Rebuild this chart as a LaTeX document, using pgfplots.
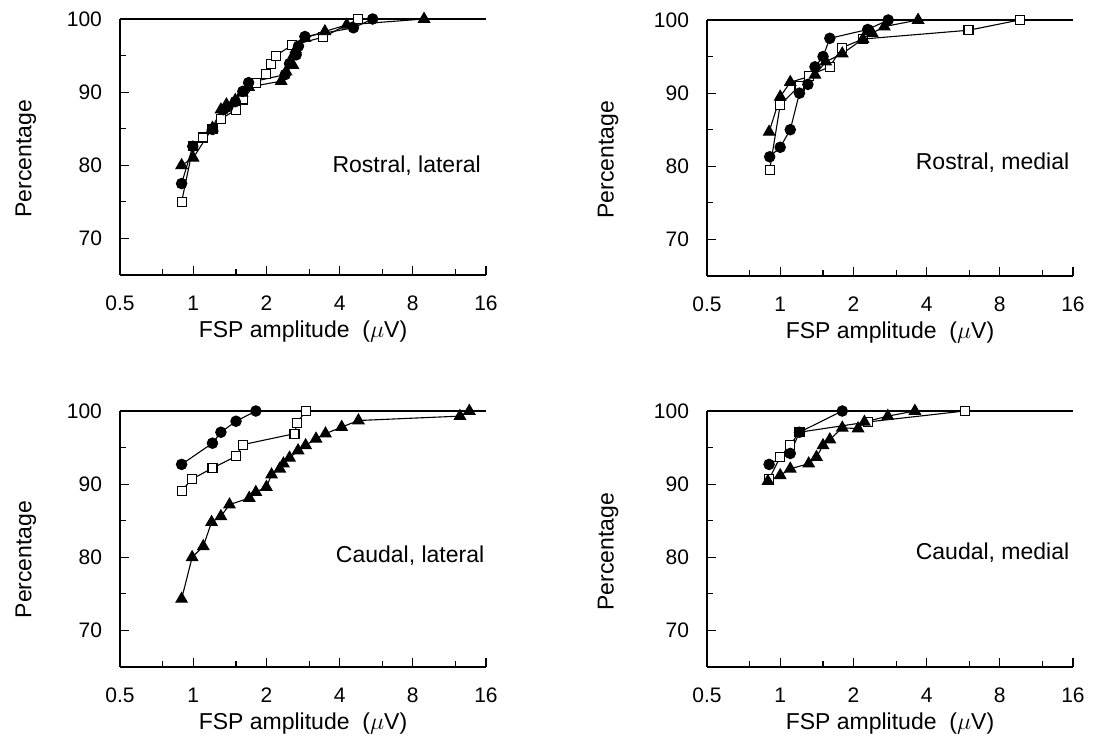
\documentclass[border=0pt]{standalone}
\usepackage{fontspec}
\setmainfont{Liberation Sans}
\usepackage{pgfplots}
\pgfplotsset{compat=1.18}

\pgfplotsset{
  every axis/.append style={
    scale only axis, width=183pt, height=128pt,
    xmin=0.5, xmax=16, ymin=65, ymax=100,
    axis x line*=bottom, axis y line*=left,
    axis line style={line width=0.6pt},
    xtick={0.5,1,2,4,8,16}, xticklabels={0.5,1,2,4,8,16},
    extra x ticks={0.75,1.5,3,6,12}, extra x tick labels={},
    extra x tick style={major tick length=2.8pt},
    ytick={70,80,90,100}, yticklabels={70,80,90,100},
    minor ytick={75,85,95},
    tick align=inside,
    major tick length=4.5pt, minor tick length=2.8pt,
    tick style={black, line width=0.6pt},
    tick label style={font=\fontsize{10.5}{12}\selectfont},
    xticklabel style={yshift=-7pt},
    yticklabel style={xshift=-5.5pt},
    xlabel={FSP amplitude\ \ ($\mu$V)},
    ylabel={Percentage},
    label style={font=\fontsize{11.5}{13}\selectfont},
    xlabel style={at={(axis description cs:0.5,-0.219)}, anchor=center},
    clip=false,
  },
  sq/.style={black, line width=0.55pt, mark=square*, mark options={fill=white, solid}, mark size=2.25pt},
  ci/.style={black, line width=0.55pt, mark=*, mark size=2.6pt},
  tr/.style={black, line width=0.55pt, mark=triangle*, mark size=3.2pt},
}
% top border line and the panel name (right edge at x = #1, centred at y = #2)
\newcommand{\toplineandlabel}[3]{%
  \draw[line width=0.6pt] (rel axis cs:0,1) -- (rel axis cs:1,1);
  \node[anchor=east, inner sep=0pt] at (axis cs:#1,#2) {\fontsize{11.5}{13}\selectfont #3};}

\begin{document}
\begin{tikzpicture}
\path[use as bounding box] (0,0) rectangle (546.5pt,370.5pt);

% Rostral, lateral
\begin{semilogxaxis}[log basis x=2, anchor=south west, at={(60pt,233pt)},
  ylabel style={at={(axis description cs:-0.257,0.455)}, anchor=center}]
\addplot[sq] coordinates {(0.896,75.0) (1.0,82.6) (1.094,83.8) (1.2,85.0) (1.297,86.3) (1.5,87.6) (1.6,89.0) (1.81,91.2) (2.0,92.5) (2.09,93.9) (2.19,95.0) (2.54,96.4) (3.41,97.5) (4.78,100)};
\addplot[ci] coordinates {(0.896,77.5) (0.996,82.6) (1.20,84.9) (1.33,87.6) (1.39,88.0) (1.49,88.7) (1.6,90.1) (1.69,91.3) (2.39,92.4) (2.49,93.9) (2.65,95.1) (2.71,96.3) (2.88,97.6) (4.56,98.8) (5.47,100)};
\addplot[tr] coordinates {(0.896,80.0) (1.0,81.0) (1.2,85.1) (1.3,87.6) (1.37,88.3) (1.49,88.9) (1.59,89.9) (1.69,90.7) (2.30,91.5) (2.41,92.8) (2.57,93.7) (2.59,95.1) (2.64,95.8) (2.88,97.4) (3.48,98.3) (4.28,99.2) (8.9,100)};
\toplineandlabel{15.3}{80.0}{Rostral, lateral}
\end{semilogxaxis}

% Rostral, medial
\begin{semilogxaxis}[log basis x=2, anchor=south west, at={(353.5pt,232.5pt)},
  ylabel style={at={(axis description cs:-0.27,0.455)}, anchor=center}]
\addplot[sq] coordinates {(0.905,79.5) (1.0,88.4) (1.2,91.0) (1.31,92.4) (1.6,93.6) (1.79,96.2) (2.19,97.4) (5.95,98.6) (9.65,100)};
\addplot[ci] coordinates {(0.905,81.3) (1.0,82.6) (1.10,85.0) (1.20,90.0) (1.30,91.2) (1.39,93.6) (1.50,95.0) (1.60,97.5) (2.29,98.7) (2.78,100)};
\addplot[tr] coordinates {(0.90,84.7) (1.0,89.5) (1.10,91.5) (1.39,92.5) (1.54,94.3) (1.80,95.4) (2.19,97.4) (2.39,98.2) (2.68,99.1) (3.69,100)};
\toplineandlabel{15.5}{80.5}{Rostral, medial}
\end{semilogxaxis}

% Caudal, lateral
\begin{semilogxaxis}[log basis x=2, anchor=south west, at={(60pt,37pt)},
  ylabel style={at={(axis description cs:-0.257,0.42)}, anchor=center}]
\addplot[sq] coordinates {(0.896,89.1) (0.99,90.7) (1.20,92.2) (1.5,93.8) (1.6,95.4) (2.61,96.9) (2.68,98.4) (2.90,100)};
\addplot[ci] coordinates {(0.896,92.7) (1.20,95.6) (1.30,97.1) (1.5,98.6) (1.81,100)};
\addplot[tr] coordinates {(0.896,74.3) (0.99,80.0) (1.10,81.5) (1.19,84.8) (1.30,85.6) (1.41,87.2) (1.70,88.1) (1.81,88.9) (2.0,89.6) (2.10,91.3) (2.27,92.1) (2.35,92.8) (2.49,93.6) (2.70,94.6) (2.90,95.3) (3.20,96.2) (3.50,96.9) (4.08,97.8) (4.78,98.7) (12.5,99.3) (13.66,100)};
\toplineandlabel{15.8}{80.2}{Caudal, lateral}
\end{semilogxaxis}

% Caudal, medial
\begin{semilogxaxis}[log basis x=2, anchor=south west, at={(353.5pt,37pt)},
  ylabel style={at={(axis description cs:-0.27,0.45)}, anchor=center}]
\addplot[sq] coordinates {(0.90,90.7) (1.0,93.7) (1.10,95.4) (1.20,97.1) (2.29,98.5) (5.73,100)};
\addplot[ci] coordinates {(0.90,92.7) (1.10,94.2) (1.20,97.1) (1.80,100)};
\addplot[tr] coordinates {(0.89,90.4) (1.0,91.2) (1.10,92.1) (1.31,92.8) (1.41,93.7) (1.50,95.3) (1.60,96.1) (1.80,97.7) (2.09,97.6) (2.22,98.5) (2.77,99.3) (3.58,100)};
\toplineandlabel{15.5}{80.6}{Caudal, medial}
\end{semilogxaxis}
\end{tikzpicture}
\end{document}
